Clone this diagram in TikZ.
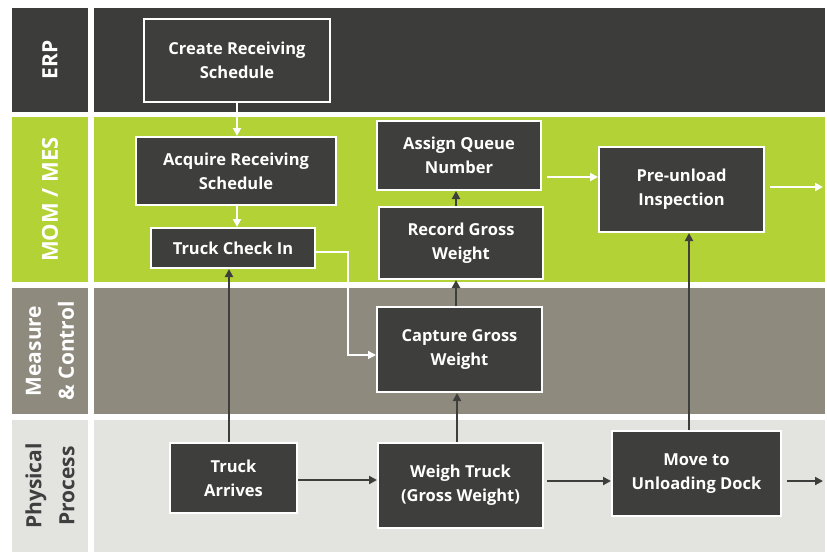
\documentclass[tikz,border=0pt]{standalone}
\usepackage{fontspec}
\setmainfont{Open Sans}
\usetikzlibrary{arrows.meta}
\definecolor{boxdark}{HTML}{3E3E3C}
\definecolor{erpc}{HTML}{3C3C3A}
\definecolor{momc}{HTML}{B2D235}
\definecolor{measc}{HTML}{8E8A7E}
\definecolor{physc}{HTML}{E3E3E0}
\definecolor{phystext}{HTML}{3F3F3F}
\tikzset{
  x=1pt, y=-1pt,
  procbox/.style={draw=white, line width=2pt, fill=boxdark, text=white,
    font=\bfseries\fontsize{16.5}{24}\selectfont, align=center, inner sep=0pt},
  lanelabel/.style={rotate=90, font=\bfseries\fontsize{21}{33}\selectfont, align=center},
  whitearrow/.style={draw=white, line width=2pt, -{Triangle[length=8pt,width=8pt]}},
  darkarrow/.style={draw=boxdark, line width=2.6pt, -{Triangle[length=8pt,width=8pt]}},
}
\begin{document}
\begin{tikzpicture}
\fill[white] (0,0) rectangle (827,552);
\useasboundingbox (0,0) rectangle (827,552);
% lanes
\fill[erpc] (12,8) rectangle (88,112);
\fill[erpc] (94,8) rectangle (825,112);
\fill[momc] (12,117) rectangle (88,282);
\fill[momc] (94,117) rectangle (825,282);
\fill[measc] (12,288) rectangle (88,414);
\fill[measc] (94,288) rectangle (825,414);
\fill[physc] (12,420) rectangle (88,552);
\fill[physc] (94,420) rectangle (825,552);
\node[lanelabel, text=white] (lerp) at (50,60) {ERP};
\node[lanelabel, text=white, font=\bfseries\fontsize{22}{33}\selectfont] (lmom) at (50,199.5) {MOM / MES};
\node[lanelabel, text=white] (lmeas) at (50,351) {Measure\\\& Control};
\node[lanelabel, text=phystext] (lphys) at (50,486) {Physical\\Process};
% boxes
\node[procbox, minimum width=186pt, minimum height=83pt] (create) at (237,60.5) {Create Receiving\\Schedule};
\node[procbox, minimum width=200pt, minimum height=68pt] (acquire) at (236,171) {Acquire Receiving\\Schedule};
\node[procbox, minimum width=164pt, minimum height=40pt] (checkin) at (233,248) {Truck Check In};
\node[procbox, minimum width=164pt, minimum height=69pt] (assign) at (459,155.5) {Assign Queue\\Number};
\node[procbox, minimum width=164pt, minimum height=72pt] (record) at (461,243) {Record Gross\\Weight};
\node[procbox, minimum width=165pt, minimum height=85pt] (preun) at (681.5,189.5) {Pre-unload\\Inspection};
\node[procbox, minimum width=165pt, minimum height=85pt] (capture) at (459.5,349.5) {Capture Gross\\Weight};
\node[procbox, minimum width=127pt, minimum height=70pt] (arrives) at (233.5,478) {Truck\\Arrives};
\node[procbox, minimum width=165pt, minimum height=85pt] (weigh) at (460.5,485.5) {Weigh Truck\\(Gross Weight)};
\node[procbox, minimum width=169pt, minimum height=85pt] (move) at (696.5,473.5) {Move to\\Unloading Dock};
% free ends
\coordinate (preout) at (823,187);
\coordinate (moveout) at (823,481);
% white arrows
\draw[whitearrow] (create.south -| 237,0) -- (acquire.north -| 237,0);
\draw[whitearrow] (acquire.south -| 237,0) -- (checkin.north -| 237,0);
\draw[draw=white, line width=1.5pt, -{Triangle[length=8pt,width=8pt]}] (checkin.east |- 0,252) -- (348,252) -- (348,355) -- (capture.west |- 0,355);
\draw[whitearrow] ([xshift=5pt]assign.east |- 0,177) -- (preun.west |- 0,177);
\draw[whitearrow] ([xshift=5pt]preun.east |- preout) -- (preout);
% dark arrows
\draw[darkarrow] (arrives.north -| 229,0) -- (checkin.south -| 229,0);
\draw[darkarrow] (arrives.east |- 0,480) -- (weigh.west |- 0,480);
\draw[darkarrow] (weigh.north -| 457,0) -- (capture.south -| 457,0);
\draw[darkarrow] (capture.north -| 456,0) -- (record.south -| 456,0);
\draw[darkarrow] (record.north -| 456,0) -- (assign.south -| 456,0);
\draw[darkarrow] ([xshift=3pt]weigh.east |- 0,481) -- (move.west |- 0,481);
\draw[darkarrow] (move.north -| 689,0) -- (preun.south -| 689,0);
\draw[darkarrow] ([xshift=5pt]move.east |- moveout) -- (moveout);
\end{tikzpicture}
\end{document}
